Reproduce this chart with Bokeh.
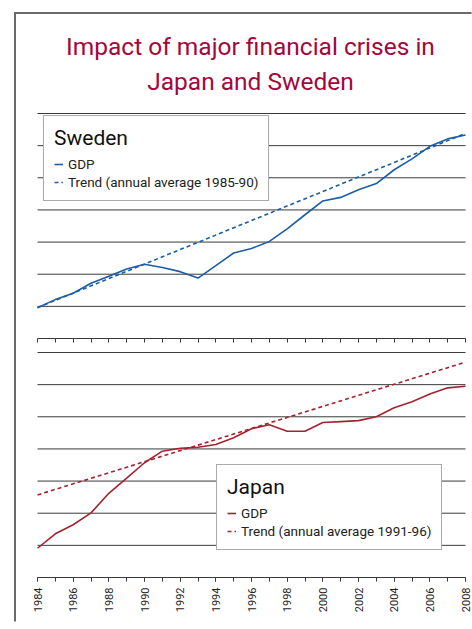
import math
from bokeh.plotting import figure
from bokeh.models import (Range1d, SingleIntervalTicker, FixedTicker, LinearAxis, Legend,
                          LegendItem, Label, BoxAnnotation)
from bokeh.embed import file_html
from bokeh.resources import INLINE

# ---- data (index values) ----
years = list(range(1984, 2009))
sweden_gdp = [99.6, 102.1, 104.1, 107.2, 109.4, 111.6, 113.1, 112.1, 110.8, 108.8,
              112.7, 116.6, 118.0, 120.2, 124.1, 128.5, 132.8, 133.9, 136.3, 138.2,
              142.5, 145.9, 149.8, 152.1, 153.3]
sweden_trend_years = [1984, 2008]
sweden_trend = [99.6, 153.8]
japan_gdp = [99.1, 103.6, 106.4, 110.1, 116.2, 120.9, 125.7, 129.3, 130.2, 130.5,
             131.4, 133.5, 136.3, 137.5, 135.5, 135.5, 138.2, 138.5, 138.8, 140.0,
             142.8, 144.7, 147.1, 149.0, 149.5]
japan_trend_years = [1984, 2008]
japan_trend = [115.7, 157.0]
grid_levels = [100, 110, 120, 130, 140, 150, 160]
axis_base = 90

title_lines = ["Impact of major financial crises in", "Japan and Sweden"]
sweden_labels = ["GDP", "Trend (annual average 1985-90)"]
japan_labels = ["GDP", "Trend (annual average 1991-96)"]

FONT = "Roboto"
BLUE = "#1c5da7"
RED = "#a3232f"
CRIMSON = "#a3083c"
GRIDC = "#3a3a3a"
FRAMEC = "#6a6a6a"

W, H = 472, 622
K = 225 / 70.0  # pixels per index point in each panel
PX_YEAR = 428 / 24.0

p = figure(width=W, height=H, output_backend="svg", toolbar_location=None,
           x_range=Range1d(1984 - 37 / PX_YEAR, 2008 + (W - 465) / PX_YEAR),
           y_range=Range1d(90 - (H - 338) / K, 160 + 113 / K),
           x_axis_location=None, y_axis_location=None,
           min_border=0, min_border_left=0, min_border_right=0,
           min_border_top=0, min_border_bottom=0,
           background_fill_color="white", border_fill_color="white",
           outline_line_color=None)
p.extra_y_ranges = {"japan": Range1d(90 - (H - 577) / K, 160 + 352 / K)}
for g in p.grid:
    g.visible = False

# outer frame: only its left and top edges fall inside the window
p.add_layout(BoxAnnotation(left=13.5, right=15.5, top=11.5, bottom=H - 1,
                           left_units="canvas", right_units="canvas",
                           top_units="canvas", bottom_units="canvas",
                           fill_color=FRAMEC, fill_alpha=1, line_color=None,
                           line_alpha=0, level="underlay"))
p.add_layout(BoxAnnotation(left=13.5, right=W - 1, top=11.5, bottom=13.5,
                           left_units="canvas", right_units="canvas",
                           top_units="canvas", bottom_units="canvas",
                           fill_color=FRAMEC, fill_alpha=1, line_color=None,
                           line_alpha=0, level="underlay"))

# gridlines spanning the year range of each panel
n = len(grid_levels)
p.segment(x0=[years[0]] * n, x1=[years[-1]] * n, y0=grid_levels, y1=grid_levels,
          line_color=GRIDC, line_width=1)
p.segment(x0=[years[0]] * n, x1=[years[-1]] * n, y0=grid_levels, y1=grid_levels,
          line_color=GRIDC, line_width=1, y_range_name="japan")

# axes
ax_top = LinearAxis(fixed_location=axis_base, bounds=(years[0], years[-1]),
                    ticker=FixedTicker(ticks=[], minor_ticks=years))
ax_bot = LinearAxis(fixed_location=axis_base, y_range_name="japan",
                    bounds=(years[0], years[-1]),
                    ticker=SingleIntervalTicker(interval=2, num_minor_ticks=2))
for ax in (ax_top, ax_bot):
    ax.axis_line_color = GRIDC
    ax.axis_line_width = 1
    ax.major_tick_line_color = GRIDC
    ax.minor_tick_line_color = GRIDC
    ax.major_tick_in = 0
    ax.major_tick_out = 4
    ax.minor_tick_in = 0
    ax.minor_tick_out = 4
ax_bot.major_label_orientation = math.pi / 2
ax_bot.major_label_text_font = FONT
ax_bot.major_label_text_font_size = "11px"
ax_bot.major_label_text_color = "#222222"
ax_bot.major_label_standoff = 6
p.add_layout(ax_top, "below")
p.add_layout(ax_bot, "below")

# series
rs1 = p.line(years, sweden_gdp, line_color=BLUE, line_width=1.6)
rs2 = p.line(sweden_trend_years, sweden_trend, line_color=BLUE, line_width=1.6,
             line_dash="4 3")
rj1 = p.line(years, japan_gdp, line_color=RED, line_width=1.6, y_range_name="japan")
rj2 = p.line(japan_trend_years, japan_trend, line_color=RED, line_width=1.6,
             line_dash="4 3", y_range_name="japan")


def make_legend(title, labels, rends, loc):
    lg = Legend(items=[LegendItem(label=labels[0], renderers=[rends[0]]),
                       LegendItem(label=labels[1], renderers=[rends[1]])],
                title=title, location=loc)
    lg.title_text_font = FONT
    lg.title_text_font_size = "21px"
    lg.title_text_font_style = "normal"
    lg.title_text_color = "#111111"
    lg.title_standoff = 6
    lg.label_text_font = FONT
    lg.label_text_font_size = "13.5px"
    lg.label_text_color = "#222222"
    lg.label_standoff = 5
    lg.label_height = 14
    lg.glyph_width = 9
    lg.glyph_height = 14
    lg.spacing = 2
    lg.padding = 10
    lg.margin = 0
    lg.border_line_color = "#555555"
    lg.border_line_width = 1
    lg.background_fill_color = "white"
    lg.background_fill_alpha = 1
    return lg


p.add_layout(make_legend("Sweden", sweden_labels, [rs1, rs2], (43, H - 201)))
p.add_layout(make_legend("Japan", japan_labels, [rj1, rj2], (216, H - 550)))

# title
for txt, base in zip(title_lines, (46, 81)):
    p.add_layout(Label(x=250, y=H - base, x_units="screen", y_units="screen", text=txt,
                       text_align="center", text_baseline="alphabetic",
                       text_font=FONT, text_font_size="24.5px",
                       text_color=CRIMSON))

open("out.html", "w").write(file_html(p, INLINE))
